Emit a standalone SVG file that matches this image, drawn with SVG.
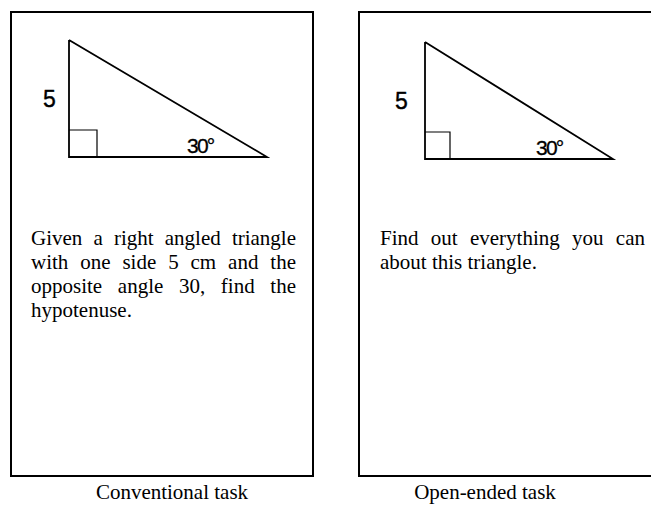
<svg xmlns="http://www.w3.org/2000/svg" width="651" height="505" viewBox="0 0 651 505">
<style>
.frame{fill:none;stroke:#000;stroke-width:2}
.tri{fill:none;stroke:#000;stroke-width:1.8;stroke-linejoin:miter}
.sq{fill:none;stroke:#000;stroke-width:1.2}
.lbl{font-family:"Liberation Sans",Arial,sans-serif;font-size:23px;fill:#000;stroke:#000;stroke-width:0.4}
.ang{font-family:"Liberation Sans",Arial,sans-serif;font-size:21px;fill:#000;stroke:#000;stroke-width:0.3;letter-spacing:-1.8px}
.body{font-family:"Liberation Serif","Times New Roman",serif;font-size:21px;fill:#000}
.cap{font-family:"Liberation Serif","Times New Roman",serif;font-size:21px;fill:#000;text-anchor:middle}
</style>
<rect width="651" height="505" fill="#fff"/>
<g id="conventional-task">
  <rect class="frame" x="11" y="12" width="302" height="464"/>
  <polyline class="tri" points="69,40 69,157 267,157 69,40"/>
  <polyline class="sq" points="69,130 97,130 97,157"/>
  <text class="lbl" x="43" y="107">5</text>
  <text class="ang" x="187" y="153">30°</text>
  <text class="body" x="31" y="245" word-spacing="5.9">Given a right angled triangle</text>
  <text class="body" x="31" y="269" word-spacing="6.64">with one side 5 cm and the</text>
  <text class="body" x="31" y="293" word-spacing="10.4">opposite angle 30, find the</text>
  <text class="body" x="31" y="317">hypotenuse.</text>
  <text class="cap" x="172" y="499">Conventional task</text>
</g>
<g id="open-ended-task">
  <rect class="frame" x="359" y="12" width="310" height="464"/>
  <polyline class="tri" points="425,42 425,159 613,159 425,42"/>
  <polyline class="sq" points="425,132 450,132 450,159"/>
  <text class="lbl" x="395" y="109">5</text>
  <text class="ang" x="536" y="155">30°</text>
  <text class="body" x="380" y="245" word-spacing="7.05">Find out everything you can</text>
  <text class="body" x="380" y="269">about this triangle.</text>
  <text class="cap" x="485" y="499">Open-ended task</text>
</g>
<g id="connectors"></g>
</svg>
